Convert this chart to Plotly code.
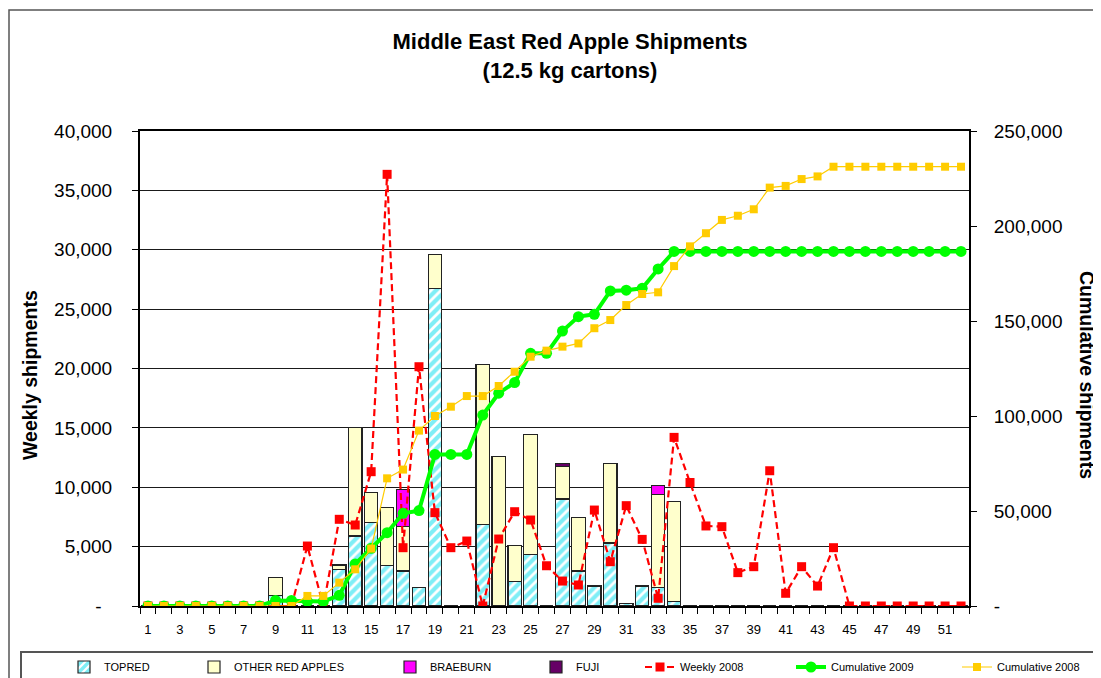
import plotly.graph_objects as go

# ---------------- data ----------------
weeks = list(range(1, 53))
week_labels = [str(w) if w % 2 == 1 else "" for w in weeks]

topred = [0, 0, 0, 0, 0, 0, 0, 0, 900, 0,
          0, 0, 3100, 5900, 7050, 3390, 2950, 1550, 26750, 0,
          0, 6880, 0, 2050, 4350, 0, 9010, 2950, 1680, 5300,
          230, 1680, 1540, 400, 0, 0, 0, 0, 0, 0,
          0, 0, 0, 0, 0, 0, 0, 0, 0, 0,
          0, 0]
other_red = [0, 0, 0, 0, 0, 0, 0, 0, 1500, 0,
             0, 0, 350, 9100, 2490, 4920, 3730, 0, 2870, 0,
             0, 13440, 12570, 3030, 10110, 0, 2720, 4520, 0, 6680,
             0, 0, 7860, 8380, 0, 0, 0, 0, 0, 0,
             0, 0, 0, 0, 0, 0, 0, 0, 0, 0,
             0, 0]
braeburn = [0, 0, 0, 0, 0, 0, 0, 0, 0, 0,
            0, 0, 0, 0, 0, 0, 3150, 0, 0, 0,
            0, 0, 0, 0, 0, 0, 0, 0, 0, 0,
            0, 0, 730, 0, 0, 0, 0, 0, 0, 0,
            0, 0, 0, 0, 0, 0, 0, 0, 0, 0,
            0, 0]
fuji = [0, 0, 0, 0, 0, 0, 0, 0, 0, 0,
        0, 0, 0, 0, 0, 0, 0, 0, 0, 0,
        0, 0, 0, 0, 0, 0, 250, 0, 0, 0,
        0, 0, 0, 0, 0, 0, 0, 0, 0, 0,
        0, 0, 0, 0, 0, 0, 0, 0, 0, 0,
        0, 0]
weekly_2008 = [0, 0, 0, 0, 0, 0, 0, 0, 0, 0,
               5050, 0, 7300, 6820, 11310, 36350, 4910, 20150, 7860, 4910,
               5470, 0, 5640, 7940, 7240, 3390, 2100, 1770, 8080, 3730,
               8450, 5610, 650, 14200, 10400, 6740, 6680, 2810, 3310, 11390,
               1070, 3310, 1680, 4910, 0, 0, 0, 0, 0, 0,
               0, 0]
cumulative_2009 = [0, 0, 0, 0, 0, 0, 0, 0, 2900, 2900,
                   2400, 2400, 5600, 22100, 30400, 38600, 48800, 50200, 79800, 79800,
                   79800, 100500, 112000, 117600, 133000, 133000, 144700, 152300, 153500, 165800,
                   166200, 167200, 177400, 186600, 186600, 186600, 186600, 186600, 186600, 186600,
                   186600, 186600, 186600, 186600, 186600, 186600, 186600, 186600, 186600, 186600,
                   186600, 186600]
cumulative_2008 = [0, 0, 0, 0, 0, 0, 0, 0, 0, 0,
                   5300, 5300, 12300, 19300, 30200, 67200, 71800, 92300, 100000, 104900,
                   110500, 110500, 115800, 123300, 131200, 134400, 136500, 138200, 146200, 150500,
                   158400, 164200, 165100, 178900, 189300, 196200, 203200, 205400, 208800, 220200,
                   221100, 224700, 226100, 231200, 231200, 231200, 231200, 231200, 231200, 231200,
                   231200, 231200]

left_ticks = [0, 5000, 10000, 15000, 20000, 25000, 30000, 35000, 40000]
left_labels = ["-  ", "5,000", "10,000", "15,000", "20,000", "25,000", "30,000", "35,000", "40,000"]
right_ticks = [0, 50000, 100000, 150000, 200000, 250000]
right_labels = ["-", "50,000", "100,000", "150,000", "200,000", "250,000"]

# ---------------- geometry (page pixels; the page body has an 8px margin) ----------------
OFF = 8
W, H = 1101 - OFF, 678 - OFF
PL, PR, PT, PB = 140 - OFF, 969 - OFF, 131 - OFF, 606 - OFF


def px_x(p):
    return (p - OFF - PL) / (PR - PL)


def px_y(p):
    return (PB - (p - OFF)) / (PB - PT)


FONT = "Liberation Sans, Arial, sans-serif"
NARROW = "Liberation Sans Narrow, Arial Narrow, Liberation Sans, Arial, sans-serif"

fig = go.Figure()

bar_line = dict(color="#222222", width=1.2)
fig.add_trace(go.Bar(
    x=weeks, y=topred, name="TOPRED", legend="legend",
    marker=dict(color="white", line=bar_line,
                pattern=dict(shape="/", fgcolor="#00DDEE", bgcolor="white", size=7, solidity=0.6)),
))
fig.add_trace(go.Bar(
    x=weeks, y=other_red, name="OTHER RED APPLES", legend="legend2",
    marker=dict(color="#FFFFCC", line=bar_line),
))
fig.add_trace(go.Bar(
    x=weeks, y=braeburn, name="BRAEBURN", legend="legend3",
    marker=dict(color="#FF00FF", line=bar_line),
))
fig.add_trace(go.Bar(
    x=weeks, y=fuji, name="FUJI", legend="legend4",
    marker=dict(color="#660066", line=bar_line),
))
fig.add_trace(go.Scatter(
    x=weeks, y=weekly_2008, name="Weekly 2008", legend="legend5", mode="lines+markers",
    line=dict(color="#FF0000", width=2.2, dash="7px,4px"),
    marker=dict(symbol="square", size=9, color="#FF0000"),
))
fig.add_trace(go.Scatter(
    x=weeks, y=cumulative_2009, name="Cumulative 2009", legend="legend6", mode="lines+markers",
    yaxis="y2",
    line=dict(color="#00FF00", width=4),
    marker=dict(symbol="circle", size=11, color="#00FF00"),
))
fig.add_trace(go.Scatter(
    x=weeks, y=cumulative_2008, name="Cumulative 2008", legend="legend7", mode="lines+markers",
    yaxis="y2",
    line=dict(color="#FFCC00", width=1.2),
    marker=dict(symbol="square", size=8, color="#FFCC00"),
))

# legends, one per entry, placed like the original
legend_text_starts = [104, 234, 430, 576, 680, 831, 997]
legend_names = ["legend", "legend2", "legend3", "legend4", "legend5", "legend6", "legend7"]
legend_layout = {}
for nm, tx in zip(legend_names, legend_text_starts):
    legend_layout[nm] = dict(
        x=px_x(tx - 40), y=px_y(667), xanchor="left", yanchor="middle",
        orientation="h", bgcolor="rgba(0,0,0,0)", borderwidth=0,
        font=dict(family=NARROW, size=11, color="black"),
        itemclick=False, itemdoubleclick=False,
    )

fig.update_layout(
    width=W, height=H,
    margin=dict(l=PL, r=W - PR, t=PT, b=H - PB, autoexpand=False),
    paper_bgcolor="white", plot_bgcolor="white",
    barmode="stack", bargap=0.16,
    showlegend=True,
    font=dict(family=FONT, color="black"),
    title=dict(
        text="<b>Middle East Red Apple Shipments<br>(12.5 kg cartons)</b>",
        x=(570 - OFF) / W, xanchor="center", xref="container",
        y=1 - (49 - OFF) / H, yanchor="middle", yref="container",
        font=dict(family=FONT, size=22, color="black"),
    ),
    xaxis=dict(
        range=[0.5, 52.5], tickmode="array", tickvals=weeks, ticktext=week_labels,
        ticks="", showgrid=False, zeroline=False,
        showline=True, linecolor="black", linewidth=2, mirror=True,
        tickfont=dict(family=FONT, size=13, color="black"),
        ticklabelstandoff=10,
        minor=dict(tick0=0.5, dtick=1, ticks="outside", ticklen=6, tickcolor="black", tickwidth=1.2,
                   showgrid=False),
    ),
    yaxis=dict(
        range=[0, 40000], tickmode="array", tickvals=left_ticks, ticktext=left_labels,
        ticks="outside", ticklen=6, tickcolor="black", tickwidth=1.2,
        showgrid=True, gridcolor="#1a1a1a", gridwidth=1.2,
        zeroline=False, showline=True, linecolor="black", linewidth=2,
        tickfont=dict(family=FONT, size=19, color="black"),
        ticklabelstandoff=16,
    ),
    yaxis2=dict(
        range=[0, 250000], overlaying="y", side="right", anchor="x",
        tickmode="array", tickvals=right_ticks, ticktext=right_labels,
        ticks="outside", ticklen=6, tickcolor="black", tickwidth=1.2,
        showgrid=False, zeroline=False, showline=True, linecolor="black", linewidth=2,
        tickfont=dict(family=FONT, size=19, color="black"),
        ticklabelstandoff=13,
    ),
    annotations=[
        dict(text="<b>Weekly shipments</b>", xref="paper", yref="paper",
             x=px_x(30), y=px_y(375), textangle=-90, showarrow=False,
             xanchor="center", yanchor="middle",
             font=dict(family=FONT, size=19.5, color="black")),
        dict(text="<b>Cumulative shipments</b>", xref="paper", yref="paper",
             x=px_x(1087), y=px_y(375), textangle=90, showarrow=False,
             xanchor="center", yanchor="middle",
             font=dict(family=FONT, size=19.5, color="black")),
    ],
    shapes=[
        # outer chart frame
        dict(type="rect", xref="paper", yref="paper",
             x0=px_x(9), x1=px_x(1130), y0=px_y(700), y1=px_y(10),
             line=dict(color="#555555", width=1.5), fillcolor="rgba(0,0,0,0)", layer="below"),
        # legend box
        dict(type="rect", xref="paper", yref="paper",
             x0=px_x(21), x1=px_x(1130), y0=px_y(700), y1=px_y(652),
             line=dict(color="#555555", width=2), fillcolor="rgba(0,0,0,0)", layer="below"),
    ],
    **legend_layout,
)

fig.write_html("out.html")
